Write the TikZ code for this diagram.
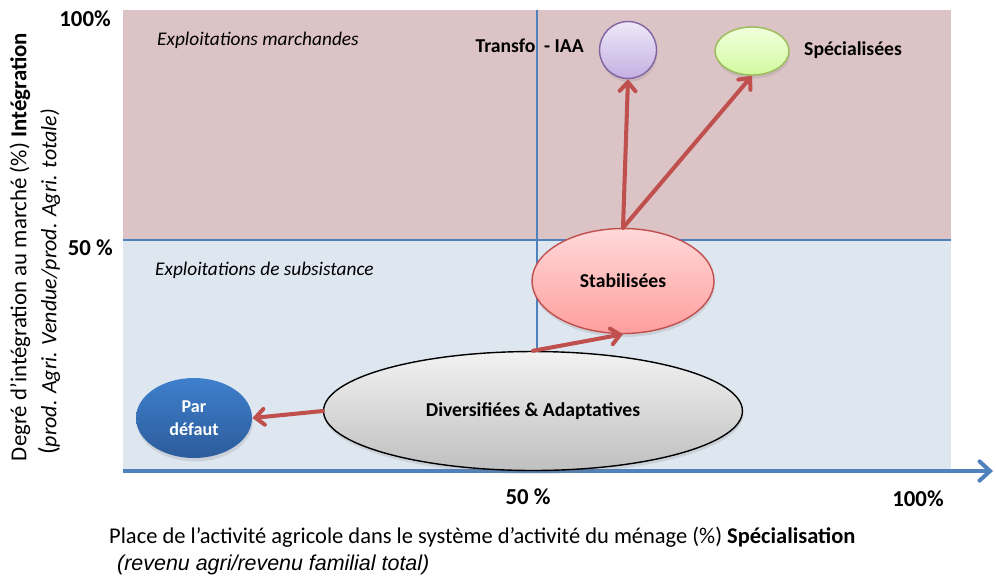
\documentclass[tikz,border=0pt]{standalone}
\usepackage{fontspec}
\setmainfont{Carlito}
\newfontfamily\arialfont{Liberation Sans}
\usepackage{tikz}
\usetikzlibrary{shapes.geometric,arrows.meta,shadows,positioning}

\definecolor{zonehaut}{RGB}{219,195,198}
\definecolor{zonebas}{RGB}{222,230,240}
\definecolor{axeblue}{RGB}{79,129,189}
\definecolor{flecherouge}{RGB}{192,80,77}

\tikzset{
  etat/.style={ellipse, inner sep=0pt, font=\bfseries\fontsize{11.2}{13}\selectfont,
    drop shadow={opacity=0.2, shadow xshift=0.5pt, shadow yshift=-2pt}},
  fleche/.style={line width=2.3pt, flecherouge, line cap=round,
    -{Straight Barb[length=5pt, width=9pt, line cap=round]}},
  zonetxt/.style={font=\itshape\fontsize{11}{13}\selectfont, anchor=west},
  pct/.style={font=\bfseries\fontsize{13}{15}\selectfont}
}

\begin{document}
\begin{tikzpicture}[x={(0.02cm,0)}, y={(0,-0.02cm)}]
    \useasboundingbox (0,0) rectangle (996,576);
    % zones
    \fill[zonehaut] (123,10) rectangle (951,240);
    \fill[zonebas] (123,240) rectangle (951,469);
    \draw[axeblue, line width=0.7pt] (123,240) -- (951,240);
    \draw[axeblue, line width=0.7pt] (537,10) -- (537,360);
    \node[zonetxt] (zm) at (151,40) {Exploitations marchandes};
    \node[zonetxt] (zs) at (149,270) {Exploitations de subsistance};

    % axe horizontal
    \coordinate (orig) at (123,471);
    \coordinate (xfin) at (993,471);
    \draw[axeblue, line width=2.3pt, -{Straight Barb[length=6pt, width=11pt, line cap=round]}] (orig) -- (xfin);

    % etats
    \node[etat, draw=black, line width=0.8pt, top color=gray!10, bottom color=gray!50,
      minimum width=8.38cm, minimum height=2.38cm] (div) at (533,411) {Diversifiées \& Adaptatives};
    \node[etat, draw=flecherouge, line width=0.8pt, top color=red!15, bottom color=red!38,
      minimum width=3.64cm, minimum height=2.1cm] (stab) at (623,281) {Stabilisées};
    \node[etat, top color={rgb,255:red,62;green,127;blue,204}, bottom color={rgb,255:red,44;green,92;blue,155},
      text=white, align=center, font=\bfseries\fontsize{10.3}{13}\selectfont,
      minimum width=2.32cm, minimum height=1.6cm] (defaut) at (194,418) {Par\\défaut};
    \node[etat, draw={rgb,255:red,128;green,100;blue,162}, line width=0.8pt,
      top color={rgb,255:red,238;green,232;blue,248}, bottom color={rgb,255:red,196;green,176;blue,226},
      minimum width=1.14cm, minimum height=1.14cm] (iaa) at (628,50) {};
    \node[etat, draw={rgb,255:red,155;green,187;blue,89}, line width=0.8pt,
      top color={rgb,255:red,240;green,255;blue,220}, bottom color={rgb,255:red,210;green,250;blue,160},
      minimum width=1.48cm, minimum height=0.96cm] (spec) at (752,51) {};
    \node[font=\bfseries\fontsize{11.2}{13}\selectfont, anchor=east] (iaatxt) at (590,46) {Transfo\ \ - IAA};
    \node[font=\bfseries\fontsize{11.2}{13}\selectfont, anchor=west] (spectxt) at (798,50) {Spécialisées};

    % trajectoires
    \draw[fleche] (stab.north) -- (iaa.south);
    \draw[fleche] (stab.north) -- (spec.south);
    \draw[fleche] (div.north) -- (stab.south);
    \draw[fleche] (div.west) -- (defaut.east);

    % graduations
    \node[pct, anchor=east] (y100) at (117,19) {100\%};
    \node[pct, anchor=east] (y50) at (119,248) {50 \%};
    \node[pct] (x50) at (528,497) {50 \%};
    \node[pct] (x100) at (918,499) {100\%};

    % titres des axes
    \node[anchor=west, font=\fontsize{12.8}{15}\selectfont] (titrex) at (103,537)
      {Place de l’activité agricole dans le système d’activité du ménage (\%) \textbf{Spécialisation}};
    \node[anchor=west, font=\arialfont\itshape\fontsize{12.2}{14}\selectfont] (soustitrex) at (111,565)
      {(revenu agri/revenu familial total)};
    \node[rotate=90, font=\fontsize{13}{15}\selectfont] (titrey) at (20,247)
      {Degré d’intégration au marché (\%) \textbf{Intégration}};
    \node[rotate=90, font=\itshape\fontsize{12.5}{15}\selectfont] (soustitrey) at (49,282)
      {{\upshape\Large(}prod. Agri. Vendue/prod. Agri. totale)};
\end{tikzpicture}
\end{document}
